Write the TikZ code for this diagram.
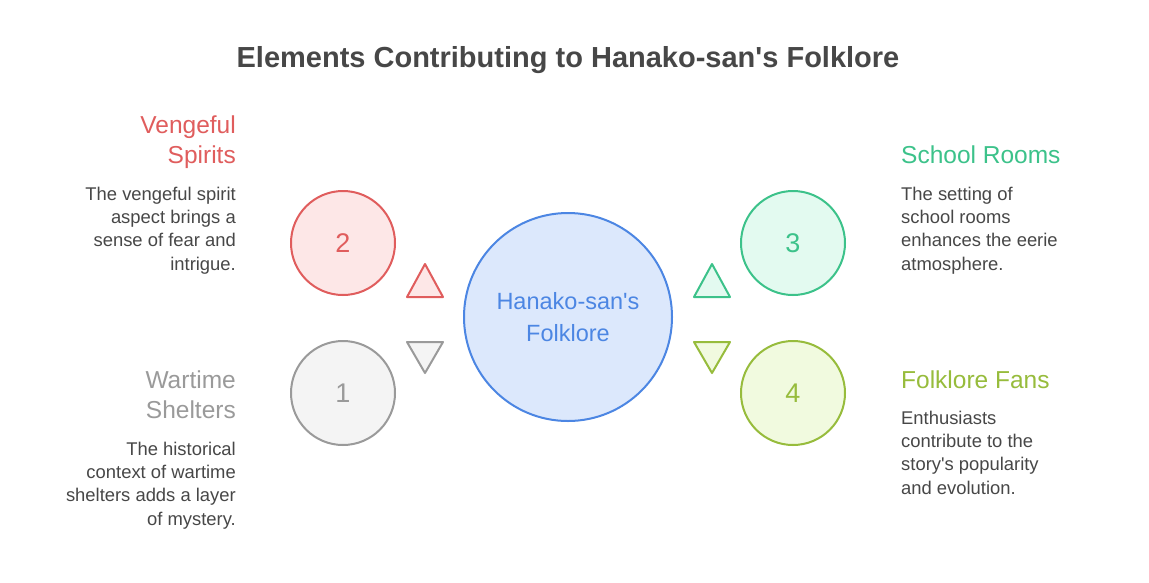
\documentclass[tikz,border=0pt]{standalone}
\usepackage{fontspec}
\setmainfont{Liberation Sans}[Ligatures=TeXOff]
\definecolor{cred}{HTML}{E05D5D}
\definecolor{fred}{HTML}{FDE7E7}
\definecolor{cgray}{HTML}{9A9A9A}
\definecolor{fgray}{HTML}{F4F4F4}
\definecolor{cgreen}{HTML}{3CC28A}
\definecolor{fgreen}{HTML}{E3FAF0}
\definecolor{clime}{HTML}{97BC3C}
\definecolor{flime}{HTML}{F1FADF}
\definecolor{cblue}{HTML}{4C86E3}
\definecolor{fblue}{HTML}{DCE8FC}
\definecolor{ctext}{HTML}{474747}
\tikzset{
  numcirc/.style={circle, line width=2pt, minimum size=104pt, inner sep=0pt, font=\fontsize{27}{30}\selectfont},
  tri/.style={line width=2pt, line join=round},
  headR/.style={anchor=north east, inner sep=0pt, align=right, font=\fontsize{24.5}{30}\selectfont},
  headL/.style={anchor=north west, inner sep=0pt, align=left, font=\fontsize{24.5}{30}\selectfont},
  descR/.style={anchor=north east, inner sep=0pt, align=right, text=ctext, font=\fontsize{18.4}{23.2}\selectfont},
  descL/.style={anchor=north west, inner sep=0pt, align=left, text=ctext, font=\fontsize{18.4}{23.2}\selectfont},
}
\begin{document}
\begin{tikzpicture}[x=1pt,y=-1pt]
\useasboundingbox[fill=white] (0,0) rectangle (1149,582);
\node[anchor=base, text=ctext, font=\fontsize{29}{32}\selectfont\bfseries] (title) at (568,67) {Elements Contributing to Hanako-san's Folklore};
% central
\node[circle, line width=2pt, draw=cblue, fill=fblue, minimum size=208pt, inner sep=0pt, text=cblue, align=center, font=\fontsize{23.5}{32}\selectfont] (center) at (568,317) {Hanako-san's\\Folklore};
% numbered circles
\node[numcirc, draw=cred, fill=fred, text=cred] (c2) at (343,243) {2};
\node[numcirc, draw=cgray, fill=fgray, text=cgray] (c1) at (343,393) {1};
\node[numcirc, draw=cgreen, fill=fgreen, text=cgreen] (c3) at (793,243) {3};
\node[numcirc, draw=clime, fill=flime, text=clime] (c4) at (793,393) {4};
% triangles
\draw[tri, draw=cred, fill=fred] (407,297) -- (443,297) -- (425,264) -- cycle;
\draw[tri, draw=cgray, fill=fgray] (407,342) -- (443,342) -- (425,373) -- cycle;
\draw[tri, draw=cgreen, fill=fgreen] (694,297) -- (730,297) -- (712,264) -- cycle;
\draw[tri, draw=clime, fill=flime] (694,342) -- (730,342) -- (712,373) -- cycle;
% left texts
\node[headR, text=cred] (h2) at (236,116) {Vengeful\\Spirits};
\node[descR] (d2) at (236,187) {The vengeful spirit\\aspect brings a\\sense of fear and\\intrigue.};
\node[headR, text=cgray] (h1) at (236,371) {Wartime\\Shelters};
\node[descR] (d1) at (236,442) {The historical\\context of wartime\\shelters adds a layer\\of mystery.};
% right texts
\node[headL, text=cgreen] (h3) at (901,146) {School Rooms};
\node[descL] (d3) at (901,187) {The setting of\\school rooms\\enhances the eerie\\atmosphere.};
\node[headL, text=clime] (h4) at (901,371) {Folklore Fans};
\node[descL] (d4) at (901,411) {Enthusiasts\\contribute to the\\story's popularity\\and evolution.};
\end{tikzpicture}
\end{document}
